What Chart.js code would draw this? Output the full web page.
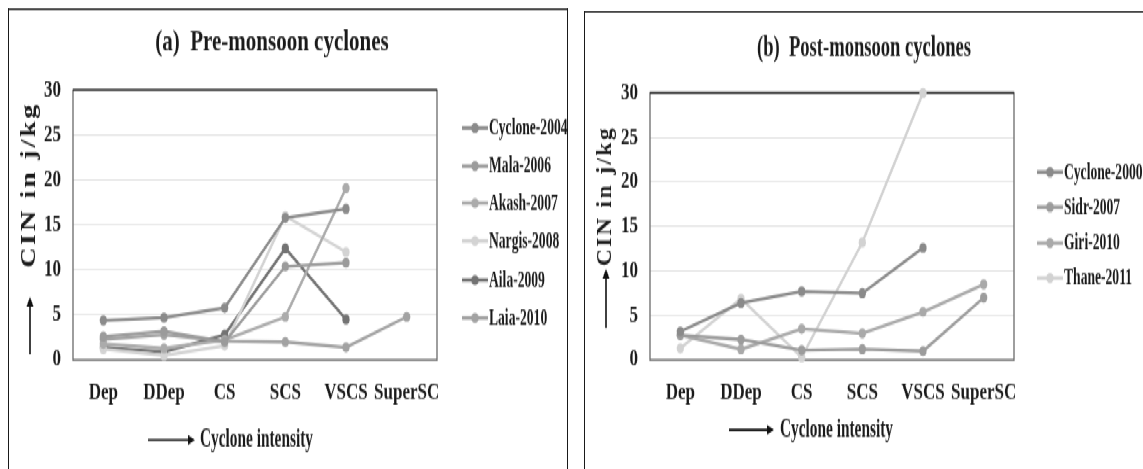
<!DOCTYPE html>
<html><head><meta charset="utf-8">
<script src="https://cdn.jsdelivr.net/npm/chart.js@4.4.0/dist/chart.umd.min.js"></script>
<style>
html,body{margin:0;padding:0;background:#fff;overflow:hidden;width:1143px;height:469px}
#stage{position:absolute;left:0;top:0;width:1143px;height:335px;transform:scaleY(1.4);transform-origin:0 0}
.panel{position:absolute;border:1.4px solid #1a1a1a;border-bottom:none;box-sizing:border-box}
#pa{left:8px;top:6.4px;width:560px;height:340px}
#pb{left:584px;top:7.8px;width:580px;height:340px}
canvas{position:absolute;top:0}
#ca{left:0}
#cb{left:575px}
</style></head>
<body>
<div id="stage">
  <div class="panel" id="pa"></div>
  <div class="panel" id="pb"></div>
  <canvas id="ca" width="575" height="335"></canvas>
  <canvas id="cb" width="568" height="335"></canvas>
</div>
<script>
// ---- data ----
const categories = ['Dep', 'DDep', 'CS', 'SCS', 'VSCS', 'SuperSC'];

const preNames  = ['Cyclone-2004', 'Mala-2006', 'Akash-2007', 'Nargis-2008', 'Aila-2009', 'Laia-2010'];
const cyclone2004 = [4.4, 4.7, 5.8, 15.8, 16.8, null];
const mala2006    = [2.6, 3.2, 2.0, 10.4, 10.8, null];
const akash2007   = [1.8, 1.3, 2.2, 4.8, 19.1, null];
const nargis2008  = [1.2, 0.5, 1.6, 16.0, 12.0, null];
const aila2009    = [1.4, 0.9, 2.8, 12.4, 4.5, null];
const laia2010    = [2.3, 2.8, 2.1, 2.0, 1.4, 4.8];

const postNames = ['Cyclone-2000', 'Sidr-2007', 'Giri-2010', 'Thane-2011'];
const cyclone2000 = [3.2, 6.4, 7.7, 7.5, 12.6, null];
const sidr2007    = [2.8, 2.3, 1.1, 1.2, 1.0, 7.0];
const giri2010    = [2.8, 1.2, 3.5, 3.0, 5.4, 8.5];
const thane2011   = [1.3, 6.9, 0.3, 13.2, 30.0, null];

const yMin = 0, yMax = 30, yStep = 5;

// ---- styles ----
const preColors  = ['#8b8b8b', '#9b9b9b', '#ababab', '#d3d3d3', '#737373', '#a2a2a2'];
const postColors = ['#8a8a8a', '#9c9c9c', '#a9a9a9', '#d2d2d2'];
const SERIF = '"Liberation Serif", "Times New Roman", serif';

function makeDatasets(names, series, colors) {
  return names.map((n, i) => ({
    label: n, data: series[i],
    borderColor: colors[i], backgroundColor: colors[i],
    pointBackgroundColor: colors[i], pointBorderColor: colors[i],
    borderWidth: 2.3, pointRadius: 3.6, pointBorderWidth: 0,
    tension: 0, spanGaps: false, clip: false
  }));
}

function arrow(ctx, x1, y1, x2, y2) {
  const a = Math.atan2(y2 - y1, x2 - x1), h = 7;
  ctx.save();
  ctx.strokeStyle = '#111'; ctx.fillStyle = '#111'; ctx.lineWidth = 1.6;
  ctx.beginPath(); ctx.moveTo(x1, y1);
  ctx.lineTo(x2 - Math.cos(a) * h * 0.8, y2 - Math.sin(a) * h * 0.8); ctx.stroke();
  ctx.beginPath(); ctx.moveTo(x2, y2);
  ctx.lineTo(x2 - h * Math.cos(a) + 3.5 * Math.sin(a), y2 - h * Math.sin(a) - 3.5 * Math.cos(a));
  ctx.lineTo(x2 - h * Math.cos(a) - 3.5 * Math.sin(a), y2 - h * Math.sin(a) + 3.5 * Math.cos(a));
  ctx.closePath(); ctx.fill();
  ctx.restore();
}

const deco = {
  id: 'deco',
  beforeDatasetsDraw(chart) {
    const { ctx, chartArea: c } = chart;
    ctx.save();
    ctx.strokeStyle = '#6a6a6a'; ctx.lineWidth = 1.3;
    ctx.strokeRect(c.left, c.top, c.right - c.left, c.bottom - c.top);
    ctx.strokeStyle = '#2a2a2a'; ctx.lineWidth = 1.4;
    ctx.beginPath(); ctx.moveTo(c.left, c.top); ctx.lineTo(c.right, c.top); ctx.stroke();
    ctx.restore();
  },
  afterDraw(chart, args, o) {
    const ctx = chart.ctx;
    ctx.save();
    ctx.fillStyle = '#1a1a1a';
    // title
    ctx.font = 'bold 21px ' + SERIF;
    ctx.textAlign = 'center'; ctx.textBaseline = 'middle';
    ctx.fillText(o.title, o.titleX, o.titleY, o.titleW);
    // y title
    ctx.save();
    ctx.translate(o.yTitleX, o.yTitleY); ctx.rotate(-Math.PI / 2);
    ctx.font = 'bold 20px ' + SERIF;
    ctx.letterSpacing = '2px';
    ctx.fillText('CIN in j/kg', 0, 0, o.yTitleW);
    ctx.restore();
    arrow(ctx, o.yTitleX, o.yArrow[0], o.yTitleX, o.yArrow[1]);
    // x title
    arrow(ctx, o.xArrow[0], o.xTitleY, o.xArrow[1], o.xTitleY);
    ctx.font = 'bold 18px ' + SERIF;
    ctx.textAlign = 'left';
    ctx.fillText('Cyclone intensity', o.xTextX, o.xTitleY, 113);
    // legend
    chart.data.datasets.forEach((d, i) => {
      const y = o.legY[i];
      ctx.strokeStyle = d.borderColor; ctx.fillStyle = d.borderColor; ctx.lineWidth = 2.6;
      ctx.beginPath(); ctx.moveTo(o.legX, y); ctx.lineTo(o.legX + 26, y); ctx.stroke();
      ctx.beginPath(); ctx.arc(o.legX + 13, y, 3.6, 0, Math.PI * 2); ctx.fill();
      ctx.fillStyle = '#1a1a1a';
      ctx.font = 'bold 17px ' + SERIF;
      ctx.textAlign = 'left'; ctx.textBaseline = 'middle';
      const w = ctx.measureText(d.label).width;
      ctx.fillText(d.label, o.legX + 27, y + 0.5, w * 0.8);
    });
    ctx.restore();
  }
};

function makeChart(id, names, series, colors, pad, yW, decoOpts) {
  return new Chart(document.getElementById(id), {
    type: 'line',
    data: { labels: categories, datasets: makeDatasets(names, series, colors) },
    plugins: [deco],
    options: {
      responsive: false, animation: false, events: [],
      layout: { padding: pad },
      plugins: { legend: { display: false }, title: { display: false }, tooltip: { enabled: false }, deco: decoOpts },
      scales: {
        x: {
          type: 'category', offset: true,
          grid: { display: false, drawTicks: false }, border: { display: false },
          ticks: { color: '#1a1a1a', font: { family: SERIF, size: 17, weight: 'bold' }, padding: 13, maxRotation: 0, autoSkip: false },
          afterFit(s) { s.height = 335 - 257.1; }
        },
        y: {
          min: yMin, max: yMax,
          grid: { color: '#e5e5e5', lineWidth: 1, drawTicks: false }, border: { display: false },
          ticks: { stepSize: yStep, color: '#1a1a1a', font: { family: SERIF, size: 17, weight: 'bold' }, padding: 12 },
          afterFit(s) { s.width = yW; }
        }
      }
    }
  });
}

makeChart('ca', preNames,
  [cyclone2004, mala2006, akash2007, nargis2008, aila2009, laia2010], preColors,
  { left: 0, right: 575 - 437, top: 64.3, bottom: 0 }, 73,
  { title: '(a)  Pre-monsoon cyclones', titleX: 272, titleY: 31, titleW: 234,
    yTitleX: 30, yTitleY: 132, yTitleW: 125, yArrow: [253, 212],
    xArrow: [148, 195], xTitleY: 314.3, xTextX: 200,
    legX: 462, legY: [91.4, 118.6, 145, 172.1, 200, 227.1] });

makeChart('cb', postNames,
  [cyclone2000, sidr2007, giri2010, thane2011], postColors,
  { left: 0, right: 568 - 439, top: 66.4, bottom: 0 }, 75,
  { title: '(b)  Post-monsoon cyclones', titleX: 289, titleY: 35, titleW: 214,
    yTitleX: 31, yTitleY: 140, yTitleW: 100, yArrow: [234.3, 192],
    xArrow: [154, 199], xTitleY: 307.1, xTextX: 205,
    legX: 462, legY: [122.9, 147.9, 173.6, 198.6] });
</script>
</body></html>
